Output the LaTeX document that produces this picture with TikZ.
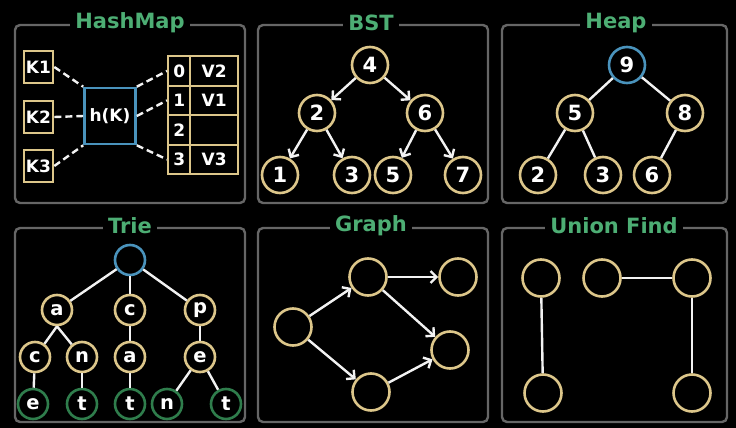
\documentclass[tikz,border=0pt]{standalone}
\usepackage{fontspec}
\setmainfont{DejaVu Sans}
\usetikzlibrary{arrows.meta}
\definecolor{bgc}{HTML}{000000}
\definecolor{framec}{HTML}{666666}
\definecolor{titlec}{HTML}{4DAE74}
\definecolor{nodec}{HTML}{DCC68A}
\definecolor{bluec}{HTML}{4A93BC}
\definecolor{leafc}{HTML}{2F7D4C}
\definecolor{edgec}{HTML}{F2F2F2}
\tikzset{
  panel/.style={draw=framec, line width=2.4pt, rounded corners=5pt},
  ptitle/.style={fill=bgc, text=titlec, font=\fontsize{21}{23}\selectfont\bfseries, inner xsep=5pt, inner ysep=0pt},
  circ/.style={circle, draw=nodec, fill=bgc, line width=2.6pt, text=white, font=\fontsize{21}{23}\selectfont\bfseries, minimum size=36pt, inner sep=0pt},
  tcirc/.style={circle, draw=nodec, fill=bgc, line width=2.6pt, text=white, font=\fontsize{19.5}{21}\selectfont\bfseries, minimum size=30pt, inner sep=0pt},
  gcirc/.style={circle, draw=nodec, fill=bgc, line width=2.6pt, minimum size=37pt, inner sep=0pt},
  sqbox/.style={draw=nodec, fill=bgc, line width=2.6pt, text=white, font=\fontsize{17}{19}\selectfont\bfseries, inner sep=0pt},
  cell/.style={draw=nodec, line width=2.4pt, text=white, font=\fontsize{17}{19}\selectfont\bfseries, inner sep=0pt, anchor=north west},
  link/.style={draw=edgec, line width=2.4pt},
  arr/.style={link, -{Straight Barb[length=6pt,width=12pt,line width=2.4pt]}},
  dashline/.style={link, dash pattern=on 7pt off 4pt},
}
\begin{document}
\begin{tikzpicture}[x=1pt,y=-1pt]
\fill[bgc] (0,0) rectangle (736,428);
\useasboundingbox (0,0) rectangle (736,428);

% ---------- panels ----------
\draw[panel] (15,25) rectangle (245,203);
\draw[panel] (258,25) rectangle (488,203);
\draw[panel] (502,25) rectangle (727,203);
\draw[panel] (15,228) rectangle (245,422);
\draw[panel] (258,228) rectangle (488,422);
\draw[panel] (502,228) rectangle (727,422);
\node[ptitle] (t1) at (130,23) {HashMap};
\node[ptitle] (t2) at (371,23) {BST};
\node[ptitle] (t3) at (616,23) {Heap};
\node[ptitle] (t4) at (130,226) {Trie};
\node[ptitle] (t5) at (371,226) {Graph};
\node[ptitle] (t6) at (614,226) {Union Find};

% ---------- HashMap ----------
\node[sqbox, minimum width=29pt, minimum height=32pt] (k1) at (38.5,67) {K1};
\node[sqbox, minimum width=29pt, minimum height=32pt] (k2) at (38.5,117) {K2};
\node[sqbox, minimum width=29pt, minimum height=32pt] (k3) at (38.5,166) {K3};
\node[sqbox, draw=bluec, minimum width=51pt, minimum height=56pt] (h) at (110,116) {h(K)};
\foreach \i/\n/\v in {0/0/V2,1/1/V1,2/2/,3/3/V3}{
  \node[cell, minimum width=22pt, minimum height=29.5pt] (i\i) at (167,{55+29.5*\i}) {\n};
  \node[cell, minimum width=48pt, minimum height=29.5pt] (v\i) at (189,{55+29.5*\i}) {\v};
}
\draw[dashline] (k1.east) -- (h.north west);
\draw[dashline] (k2.east) -- (h.west);
\draw[dashline] (k3.east) -- (h.south west);
\draw[dashline] (h.north east) -- (i0.west);
\draw[dashline] (h.east) -- (i1.west);
\draw[dashline] (h.south east) -- (i3.west);

% ---------- BST ----------
\node[circ] (b4) at (370,65) {4};
\node[circ] (b2) at (317,113) {2};
\node[circ] (b6) at (425,113) {6};
\node[circ] (b1) at (280,175) {1};
\node[circ] (b3) at (352,175) {3};
\node[circ] (b5) at (393,175) {5};
\node[circ] (b7) at (463,175) {7};
\draw[arr] (b4) -- (b2);
\draw[arr] (b4) -- (b6);
\draw[arr] (b2) -- (b1);
\draw[arr] (b2) -- (b3);
\draw[arr] (b6) -- (b5);
\draw[arr] (b6) -- (b7);

% ---------- Heap ----------
\node[circ, draw=bluec] (h9) at (627,65) {9};
\node[circ] (h5) at (575,113) {5};
\node[circ] (h8) at (685,113) {8};
\node[circ] (h2) at (538,175) {2};
\node[circ] (h3) at (603,175) {3};
\node[circ] (h6) at (652,175) {6};
\draw[link] (h9) -- (h5);
\draw[link] (h9) -- (h8);
\draw[link] (h5) -- (h2);
\draw[link] (h5) -- (h3);
\draw[link] (h8) -- (h6);

% ---------- Trie ----------
\node[tcirc, draw=bluec] (r) at (130,260) {};
\node[tcirc] (ta) at (57,310) {a};
\node[tcirc] (tc) at (130,310) {c};
\node[tcirc] (tp) at (200,310) {p};
\node[tcirc] (tac) at (35,357) {c};
\node[tcirc] (tan) at (82,357) {n};
\node[tcirc] (tca) at (130,357) {a};
\node[tcirc] (tpe) at (200,357) {e};
\node[tcirc, draw=leafc] (l1) at (33,404) {e};
\node[tcirc, draw=leafc] (l2) at (82,404) {t};
\node[tcirc, draw=leafc] (l3) at (130,404) {t};
\node[tcirc, draw=leafc] (l4) at (167,404) {n};
\node[tcirc, draw=leafc] (l5) at (226,404) {t};
\draw[link] (r) -- (ta);
\draw[link] (r) -- (tc);
\draw[link] (r) -- (tp);
\draw[link] (ta.south) -- (tac);
\draw[link] (ta.south) -- (tan);
\draw[link] (tc) -- (tca);
\draw[link] (tp) -- (tpe);
\draw[link] (tac) -- (l1);
\draw[link] (tan) -- (l2);
\draw[link] (tca) -- (l3);
\draw[link] (tpe) -- (l4);
\draw[link] (tpe) -- (l5);

% ---------- Graph ----------
\node[gcirc] (ga) at (293,327) {};
\node[gcirc] (gb) at (368,277) {};
\node[gcirc] (gc) at (458,277) {};
\node[gcirc] (gd) at (450,350) {};
\node[gcirc] (ge) at (371,392) {};
\draw[arr] (ga) -- (gb);
\draw[arr] (gb) -- (gc);
\draw[arr] (gb) -- (gd);
\draw[arr] (ga) -- (ge);
\draw[arr] (ge) -- (gd);

% ---------- Union Find ----------
\node[gcirc] (up) at (541,278) {};
\node[gcirc] (uq) at (602,278) {};
\node[gcirc] (ur) at (692,278) {};
\node[gcirc] (us) at (543,393) {};
\node[gcirc] (ut) at (692,393) {};
\draw[link] (up) -- (us);
\draw[link] (uq) -- (ur);
\draw[link] (ur) -- (ut);
\end{tikzpicture}
\end{document}
